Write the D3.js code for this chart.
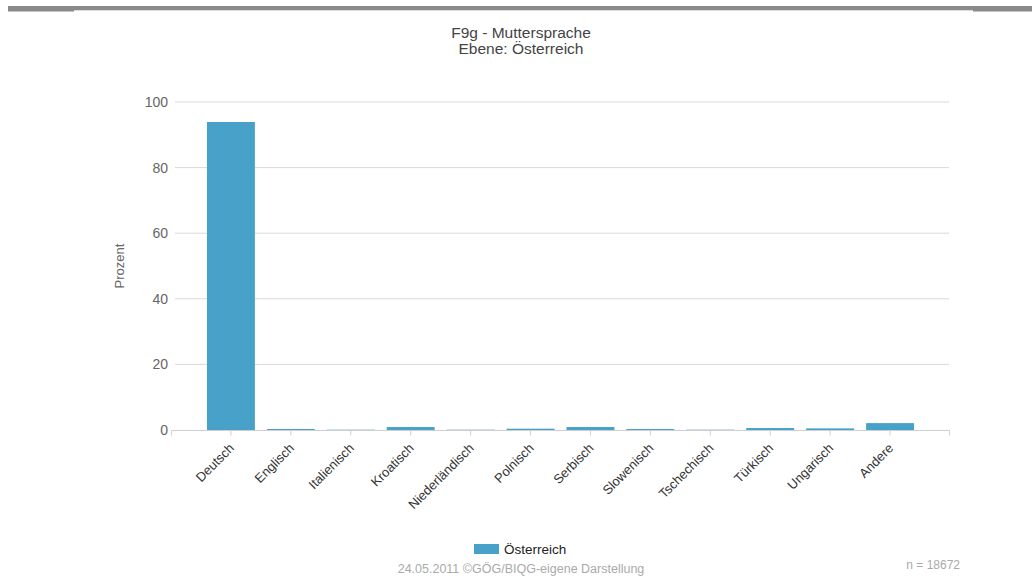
<!DOCTYPE html>
<html>
<head>
<meta charset="utf-8">
<script src="https://cdn.jsdelivr.net/npm/d3@7"></script>
<style>
  html, body { margin: 0; padding: 0; background: #fff; }
  svg { display: block; font-family: "Liberation Sans", Arial, sans-serif; }
</style>
</head>
<body>
<svg id="chart" width="1033" height="583"></svg>
<script>
// Muttersprache der Befragten, Anteil in Prozent
const categories = ["Deutsch", "Englisch", "Italienisch", "Kroatisch", "Niederländisch", "Polnisch",
                    "Serbisch", "Slowenisch", "Tschechisch", "Türkisch", "Ungarisch", "Andere"];
const values = [93.9, 0.3, 0.1, 0.9, 0.1, 0.4, 0.9, 0.3, 0.1, 0.6, 0.5, 2.1];
const yTicks = [0, 20, 40, 60, 80, 100];
const seriesName = "Österreich";
const titleLines = ["F9g - Muttersprache", "Ebene: Österreich"];
const footerText = "24.05.2011 ©GÖG/BIQG-eigene Darstellung";
const sampleText = "n = 18672";

const svg = d3.select("#chart");
const barColor = "#47a1c8";

// header rule
svg.append("rect").attr("x", 8).attr("y", 6).attr("width", 1024).attr("height", 4.3).attr("fill", "#8a8a8a");
svg.append("rect").attr("x", 8).attr("y", 6).attr("width", 66).attr("height", 5.5).attr("fill", "#8a8a8a");
svg.append("rect").attr("x", 973).attr("y", 6).attr("width", 59).attr("height", 5.5).attr("fill", "#8a8a8a");

// title
svg.append("g").selectAll("text").data(titleLines).join("text")
  .attr("x", 521).attr("y", (d, i) => 38 + i * 16)
  .attr("text-anchor", "middle").attr("font-size", 15.5).attr("fill", "#444")
  .text(d => d);

const x = d3.scaleBand().domain(categories).range([171, 950]).paddingInner(0.2).paddingOuter(0.6);
const y = d3.scaleLinear().domain([0, 100]).range([430, 102]);

// horizontal grid
svg.append("g").selectAll("line").data(yTicks.filter(t => t > 0)).join("line")
  .attr("x1", 175).attr("x2", 949)
  .attr("y1", d => y(d)).attr("y2", d => y(d))
  .attr("stroke", "#d9d9d9").attr("stroke-width", 1);

// y axis labels
const yAxis = d3.axisLeft(y).tickValues(yTicks).tickSize(0).tickPadding(3);
const gy = svg.append("g").attr("transform", "translate(171,0)").call(yAxis);
gy.select(".domain").remove();
gy.selectAll("text").attr("font-size", 14).attr("fill", "#666").attr("font-family", "Liberation Sans, Arial, sans-serif");

// axis title
svg.append("text")
  .attr("transform", "translate(124,266) rotate(-90)")
  .attr("text-anchor", "middle").attr("font-size", 13).attr("fill", "#666")
  .text("Prozent");

// bars
svg.append("g").selectAll("rect").data(categories).join("rect")
  .attr("x", d => x(d)).attr("width", x.bandwidth())
  .attr("y", (d, i) => y(values[i]))
  .attr("height", (d, i) => y(0) - y(values[i]))
  .attr("fill", barColor);

// x axis
const xAxis = d3.axisBottom(x).tickSize(5).tickPadding(0);
const gx = svg.append("g").attr("transform", "translate(0,430.5)").call(xAxis);
gx.select(".domain").attr("stroke", "#cfcfcf").attr("d", "M171.5,5V0H949.5V5");
gx.selectAll(".tick line").attr("stroke", "#cfcfcf");
gx.selectAll(".tick text")
  .attr("font-size", 13).attr("fill", "#333").attr("font-family", "Liberation Sans, Arial, sans-serif")
  .attr("text-anchor", "end")
  .attr("x", 0).attr("y", 0).attr("dy", 0)
  .attr("transform", "translate(4,18.5) rotate(-45)");

// legend
svg.append("rect").attr("x", 474).attr("y", 544).attr("width", 25).attr("height", 10).attr("fill", barColor);
svg.append("text").attr("x", 504).attr("y", 554).attr("font-size", 13.5).attr("fill", "#222").text(seriesName);

// footer
svg.append("text").attr("x", 521).attr("y", 573).attr("text-anchor", "middle")
  .attr("font-size", 12.5).attr("fill", "#aaa").text(footerText);
svg.append("text").attr("x", 960).attr("y", 569).attr("text-anchor", "end")
  .attr("font-size", 12).attr("fill", "#aaa").text(sampleText);
</script>
</body>
</html>
